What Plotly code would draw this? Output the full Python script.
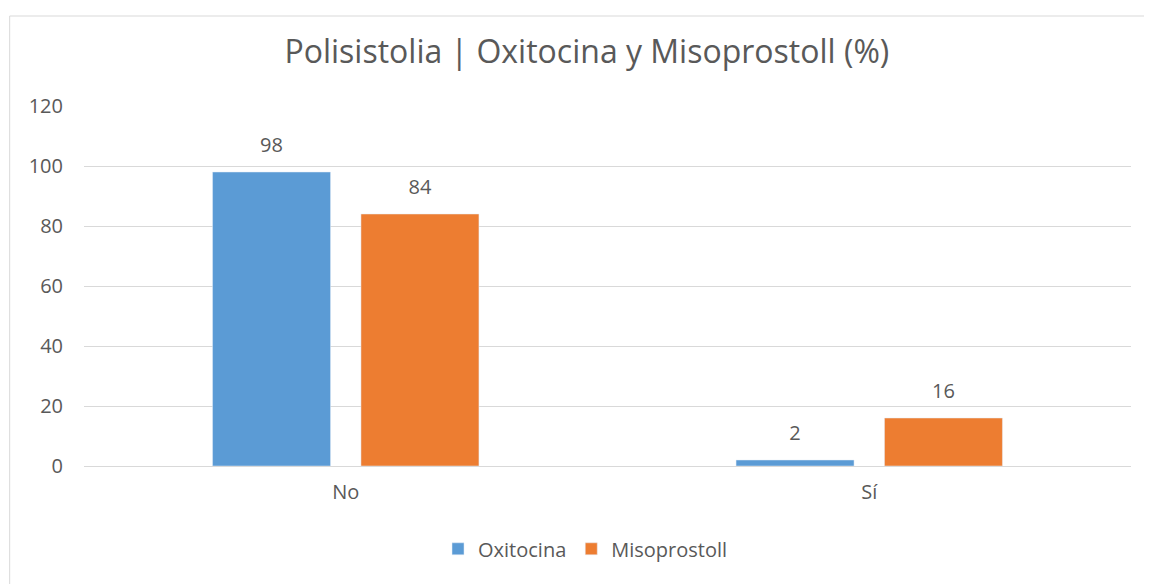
import plotly.graph_objects as go

categories: list[str] = ["No", "Sí"]
oxitocina: list[float] = [98, 2]
misoprostoll: list[float] = [84, 16]
y_ticks: list[int] = [0, 20, 40, 60, 80, 100, 120]

text_color = "#595959"
grid_color = "#d9d9d9"
font_family = "Open Sans, Liberation Sans, Arial, sans-serif"

series = [
    ("Oxitocina", oxitocina, "#5b9bd5"),
    ("Misoprostoll", misoprostoll, "#ed7d31"),
]

fig = go.Figure()
for name, values, color in series:
    fig.add_trace(
        go.Bar(name=name, x=categories, y=values, marker=dict(color=color))
    )

# value labels: grouped scatter text with an invisible marker to lift them a bit
for name, values, color in series:
    fig.add_trace(
        go.Scatter(
            x=categories,
            y=values,
            mode="markers+text",
            marker=dict(size=22, opacity=0),
            text=[f"{v:g}" for v in values],
            textposition="top center",
            textfont=dict(size=20, color=text_color),
            showlegend=False,
            hoverinfo="skip",
            cliponaxis=False,
        )
    )

# the page adds an 8px body margin, so the figure is 8px smaller than the window
fig.update_layout(
    width=1144,
    height=576,
    barmode="group",
    bargap=0.433,
    bargroupgap=0.205,
    scattermode="group",
    plot_bgcolor="white",
    paper_bgcolor="white",
    font=dict(family=font_family, color=text_color, size=20),
    title=dict(
        text="Polisistolia | Oxitocina y Misoprostoll (%)",
        x=0.506,
        xanchor="center",
        y=0.924,
        yanchor="middle",
        font=dict(size=32, color=text_color),
    ),
    margin=dict(l=76, r=21, t=98, b=118),
    xaxis=dict(
        showgrid=False,
        showline=False,
        ticks="",
        ticklabelstandoff=12,
        tickfont=dict(size=20, color=text_color),
    ),
    yaxis=dict(
        range=[0, 120],
        tickvals=y_ticks,
        showgrid=True,
        gridcolor=grid_color,
        gridwidth=1,
        zeroline=True,
        zerolinecolor=grid_color,
        zerolinewidth=1,
        ticks="",
        ticklabelstandoff=20,
        tickfont=dict(size=20, color=text_color),
    ),
    legend=dict(
        orientation="h",
        x=0.479,
        xanchor="center",
        y=-0.23,
        yanchor="middle",
        font=dict(size=20, color=text_color),
        itemwidth=30,
    ),
    showlegend=True,
)

# chart frame (only the top/left edges fall inside the picture)
fig.add_shape(
    type="rect",
    xref="paper",
    yref="paper",
    x0=-0.071,
    x1=1.05,
    y0=-0.5,
    y1=1.25,
    line=dict(color=grid_color, width=1),
    layer="below",
)

fig.write_html("out.html")
